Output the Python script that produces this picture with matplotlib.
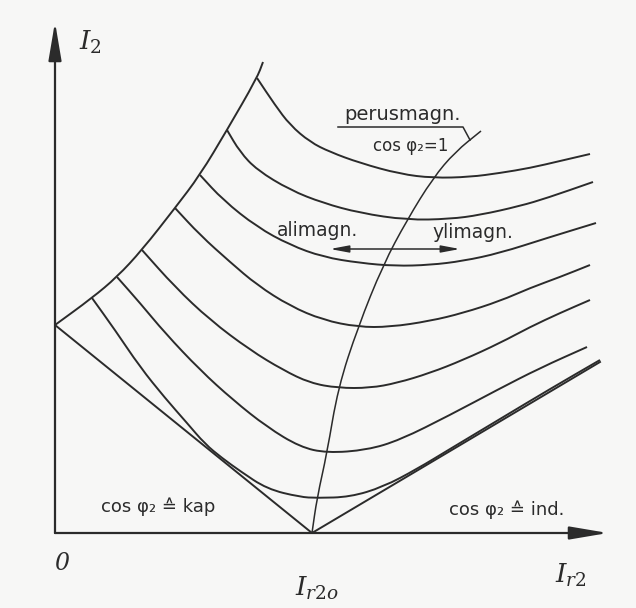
"""V-curves of a synchronous machine: stator current I2 vs. field current Ir2"""

import numpy as np
import matplotlib
matplotlib.use('Agg')
import matplotlib.pyplot as plt
from matplotlib.path import Path
from matplotlib.patches import PathPatch

plt.rcParams['mathtext.fontset'] = 'dejavuserif'

# arbitrary current units (origin = 0, Ir2o at x=257)
IR2O = 257

# stability limit (left ends of the V-curves)
limit_x = [0, 37, 62, 87, 120, 145, 172, 202, 208]
limit_y = [208, 235, 256, 283, 325, 358, 403, 455, 471]

# no-load V lines
v_left_x, v_left_y = [0, IR2O], [208, 0]
v_right_x, v_right_y = [IR2O, 545], [0, 171]

# cos(phi2) = 1 line through the minima
unity_x = [257, 262, 272, 283, 303, 328, 352, 378, 400, 426]
unity_y = [0, 35, 80, 145, 206, 268, 313, 355, 381, 402]

# V-curves, top (highest load) to bottom
curves = [
    ([202, 220, 235, 255, 275, 305, 345, 378, 415, 445, 475, 505, 535],
     [455, 428, 408, 391, 381, 370, 359, 355, 356, 360, 365, 372, 379]),
    ([172, 185, 202, 235, 268, 305, 352, 395, 425, 465, 492, 538],
     [403, 381, 363, 343, 330, 320, 313, 314, 318, 327, 335, 351]),
    ([145, 168, 202, 235, 268, 305, 340, 375, 408, 445, 492, 541],
     [358, 333, 306, 288, 276, 270, 267, 268, 272, 280, 295, 310]),
    ([120, 145, 175, 202, 235, 268, 303, 335, 375, 408, 445, 475, 505, 535],
     [325, 298, 271, 248, 227, 213, 206, 206, 212, 220, 232, 245, 256, 268]),
    ([87, 120, 155, 195, 228, 255, 283, 315, 342, 375, 408, 445, 475, 505, 535],
     [283, 246, 213, 183, 163, 150, 145, 145, 150, 160, 173, 190, 206, 220, 233]),
    ([62, 85, 110, 145, 178, 212, 245, 272, 312, 345, 395, 442, 485, 532],
     [256, 230, 200, 163, 133, 106, 86, 80, 83, 93, 118, 143, 165, 186]),
    ([37, 60, 85, 110, 132, 150, 167, 185, 212, 245, 262, 295, 328, 362, 395, 445, 495, 545],
     [235, 203, 166, 135, 110, 89, 75, 62, 44, 36, 35, 36, 46, 64, 84, 114, 144, 173]),
]

ink = '#2b2b2b'
lw = 1.4


def smooth_line(ax, xs, ys, **kw):
    """Draw the read-off points as a quadratic B-spline path (corners rounded)."""
    p = np.column_stack([xs, ys]).astype(float)
    mids = (p[:-1] + p[1:]) / 2
    verts = [p[0], mids[0]]
    codes = [Path.MOVETO, Path.LINETO]
    for i in range(1, len(p) - 1):
        verts += [p[i], mids[i]]
        codes += [Path.CURVE3, Path.CURVE3]
    verts.append(p[-1])
    codes.append(Path.LINETO)
    ax.add_patch(PathPatch(Path(verts, codes), fill=False, **kw))


fig = plt.figure(figsize=(6.36, 6.08), dpi=100, facecolor='#f7f7f6')
ax = fig.add_axes([55 / 636, 75 / 608, 560 / 636, 520 / 608])
ax.set_facecolor('none')
ax.set_xlim(0, 560)
ax.set_ylim(0, 520)
for s in ax.spines.values():
    s.set_visible(False)
ax.set_xticks([])
ax.set_yticks([])

# axes with arrows
arrow = dict(arrowstyle='-|>,head_length=1.3,head_width=0.22', lw=1.6, color=ink,
             mutation_scale=18, shrinkA=0, shrinkB=0)
ax.annotate('', xy=(0, 511), xytext=(0, 0), arrowprops=arrow, annotation_clip=False)
ax.annotate('', xy=(553, 0), xytext=(0, 0), arrowprops=arrow, annotation_clip=False)

smooth_line(ax, limit_x, limit_y, color=ink, lw=lw)
ax.plot(v_left_x, v_left_y, color=ink, lw=lw)
ax.plot(v_right_x, v_right_y, color=ink, lw=lw)
smooth_line(ax, unity_x, unity_y, color=ink, lw=1.1)
for cx, cy in curves:
    smooth_line(ax, cx, cy, color=ink, lw=lw)

# labels
tkw = dict(color=ink, ha='center', va='center', clip_on=False)
ax.text(35, 491, r'$I_2$', fontsize=19, **tkw)
ax.text(7, -30, '0', fontsize=17, family='DejaVu Serif', style='italic', **tkw)
ax.text(262, -55, r'$I_{r2o}$', fontsize=19, **tkw)
ax.text(516, -42, r'$I_{r2}$', fontsize=19, **tkw)

ax.text(347, 419, 'perusmagn.', fontsize=14, **tkw)
ax.plot([283, 408, 415], [406, 406, 393], color=ink, lw=1.1)
ax.text(356, 387, 'cos φ₂=1', fontsize=12, **tkw)

ax.text(263, 303, 'alimagn.', fontsize=13.5, **tkw)
ax.text(418, 300, 'ylimagn.', fontsize=13.5, **tkw)
ax.annotate('', xy=(275, 284), xytext=(405, 284), annotation_clip=False,
            arrowprops=dict(arrowstyle='<|-|>,head_length=0.8,head_width=0.15', lw=1.1,
                            color=ink, mutation_scale=14, shrinkA=0, shrinkB=0))

ax.text(103, 26, 'cos φ₂ ≙ kap', fontsize=13, **tkw)
ax.text(452, 23, 'cos φ₂ ≙ ind.', fontsize=13, **tkw)

fig.savefig('out.png', dpi=100, facecolor=fig.get_facecolor())
